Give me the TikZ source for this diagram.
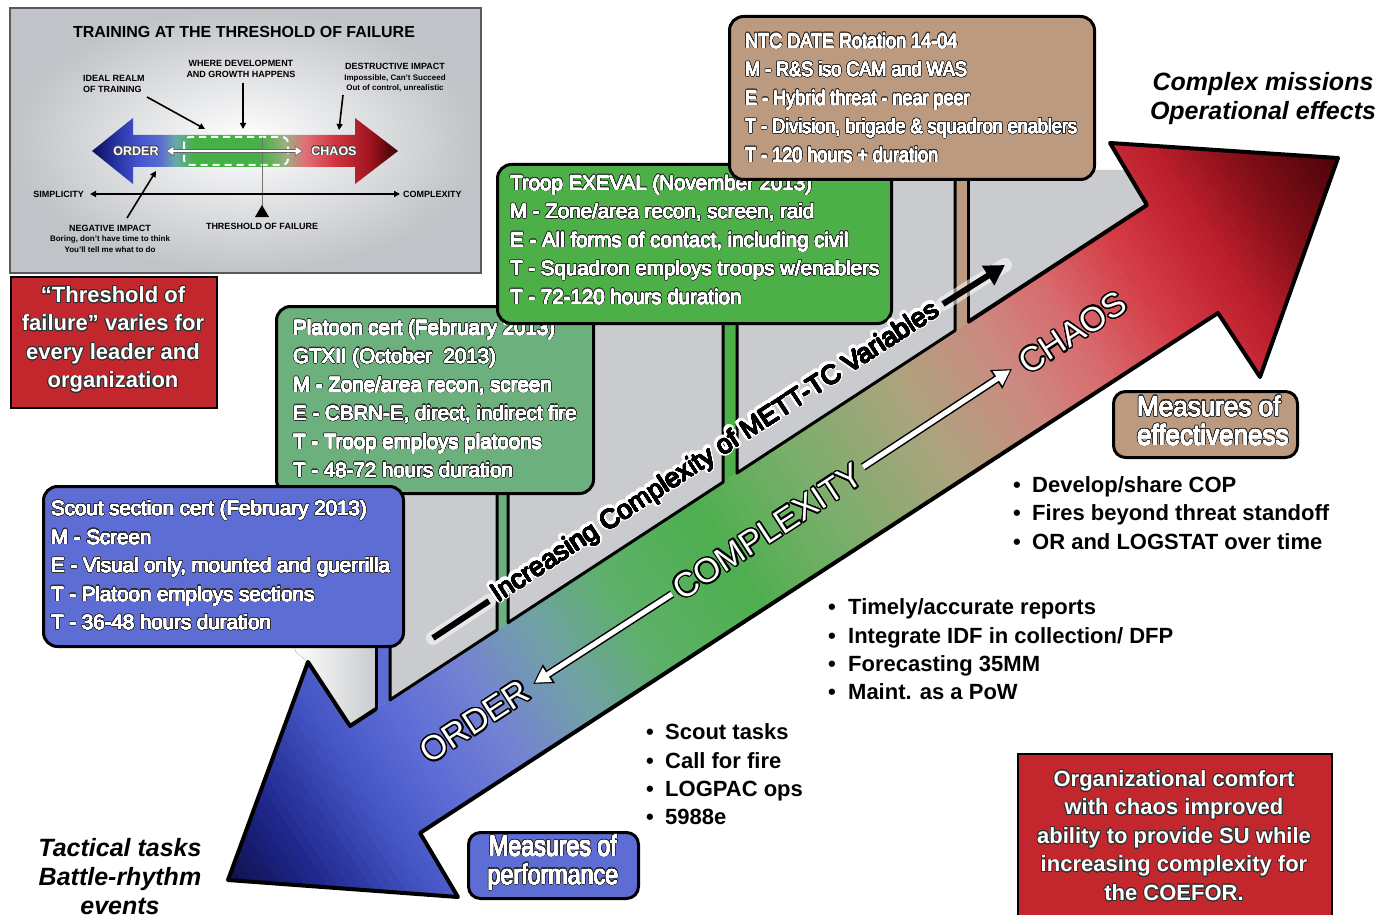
\documentclass[tikz,border=0pt]{standalone}
\usepackage{fontspec}
\setmainfont{Liberation Sans}
\newfontfamily\ntcfont[FakeStretch=0.88]{Liberation Sans}
\newfontfamily\moefont[FakeStretch=0.93]{Liberation Sans}
\newfontfamily\mopfont[FakeStretch=0.83]{Liberation Sans}
\usepackage[copies]{contour}
\contournumber{24}
\usetikzlibrary{arrows.meta}

% box and panel colours
\definecolor{scoutblue}{HTML}{5D6DD4}
\definecolor{platgreen}{HTML}{6BB07D}
\definecolor{troopgreen}{HTML}{4DAF48}
\definecolor{ntctan}{HTML}{BB9A80}
\definecolor{alertred}{HTML}{C1272D}
\definecolor{wallgrey}{HTML}{C9CBCE}
\definecolor{insetgrey}{HTML}{C0C3C7}
\definecolor{rimdark}{HTML}{303030}

% colour stops along the big diagonal arrow
\definecolor{ga}{HTML}{070A30}
\definecolor{gb}{HTML}{1E268A}
\definecolor{gc}{HTML}{4455C4}
\definecolor{gd}{HTML}{5D6CD6}
\definecolor{ge}{HTML}{7482D2}
\definecolor{gf}{HTML}{72A0AA}
\definecolor{gg}{HTML}{5EB06A}
\definecolor{gh}{HTML}{4DAF4F}
\definecolor{gi}{HTML}{7CAE6C}
\definecolor{gj}{HTML}{ACA47E}
\definecolor{gk}{HTML}{CC8A80}
\definecolor{gl}{HTML}{D86A6E}
\definecolor{gm}{HTML}{D43C46}
\definecolor{gn}{HTML}{BE1F2D}
\definecolor{go}{HTML}{7C0D15}
\definecolor{gp}{HTML}{3A0005}

% colour stops of the small order/chaos arrow
\definecolor{ia}{HTML}{0B0F55}
\definecolor{ib}{HTML}{2532A0}
\definecolor{ic}{HTML}{4656D2}
\definecolor{id}{HTML}{5A6CD0}
\definecolor{ie}{HTML}{6AA8A8}
\definecolor{if}{HTML}{45B045}
\definecolor{ig}{HTML}{9AB080}
\definecolor{ih}{HTML}{E07078}
\definecolor{ii}{HTML}{D2343E}
\definecolor{ij}{HTML}{A0141E}
\definecolor{ik}{HTML}{3A0004}

\pgfdeclarehorizontalshading{insetgrad}{100bp}{color(0bp)=(ia); color(25bp)=(ia); color(28.8bp)=(ib); color(32.8bp)=(ic); color(36.1bp)=(id); color(38.6bp)=(ie); color(41.8bp)=(if); color(52.5bp)=(if); color(56.5bp)=(ig); color(59.8bp)=(ih); color(64.7bp)=(ii); color(70.4bp)=(ij); color(75bp)=(ik); color(100bp)=(ik)}

% outlined lettering: a dark halo layer first, then a slightly emboldened white layer
\def\outlcolor{rimdark}
\newcommand\outl[1]{\contour{\outlcolor}{#1}}
\newcommand\glowtxt[1]{\contour{white}{#1}}

\newcommand\scoutlines{\outl{Scout section cert (February 2013)}\\\outl{M - Screen}\\\outl{E - Visual only, mounted and guerrilla}\\\outl{T - Platoon employs sections}\\\outl{T - 36-48 hours duration}}
\newcommand\platoonlines{\outl{Platoon cert (February 2013)}\\\outl{GTXII (October\ \ 2013)}\\\outl{M - Zone/area recon, screen}\\\outl{E - CBRN-E, direct, indirect fire}\\\outl{T - Troop employs platoons}\\\outl{T - 48-72 hours duration}}
\newcommand\trooplines{\outl{Troop EXEVAL (November 2013)}\\\outl{M - Zone/area recon, screen, raid}\\\outl{E - All forms of contact, including civil}\\\outl{T - Squadron employs troops w/enablers}\\\outl{T - 72-120 hours duration}}
\newcommand\ntclines{\outl{NTC DATE Rotation 14-04}\\\outl{M - R\&S iso CAM and WAS}\\\outl{E - Hybrid threat - near peer}\\\outl{T - Division, brigade \& squadron enablers}\\\outl{T - 120 hours + duration}}
\newcommand\moelines{\outl{Measures of}\\\outl{effectiveness}}
\newcommand\moplines{\outl{Measures of}\\\outl{performance}}

\begin{document}
\begin{tikzpicture}[x=1pt, y=-1pt,
  box/.style={draw=black, line width=3pt, rounded corners=14pt, inner sep=0pt, anchor=north west},
  boxshade/.style={inner sep=0pt, anchor=west, align=left, text=rimdark, font=\fontsize{20.5}{28.5}\selectfont\contourlength{1.1pt}\def\outlcolor{rimdark}},
  boxtext/.style={inner sep=0pt, anchor=west, align=left, text=white, font=\fontsize{20.5}{28.5}\selectfont\contourlength{0.22pt}\def\outlcolor{white}},
  alertbox/.style={draw=black, line width=2pt, fill=alertred, inner sep=0pt, anchor=north west},
  alerttext/.style={inner sep=0pt, align=center, text=white, font=\fontsize{22}{28.5}\selectfont\bfseries\contourlength{0.8pt}},
  bullets/.style={inner sep=0pt, anchor=west, align=left, font=\fontsize{22}{28.3}\selectfont\bfseries},
  aside/.style={inner sep=0pt, align=center, font=\fontsize{25}{29}\selectfont\bfseries\itshape},
  rim/.style={line width=3pt, line cap=round, line join=round},
  axislabel/.style={inner sep=0pt, text=white, font=\fontsize{34}{34}\selectfont\contourlength{1.4pt}},
  insetlbl/.style={inner sep=0pt, align=center, font=\fontsize{9}{10.5}\selectfont\bfseries},
  pointer/.style={line width=1.6pt, -{Triangle[length=6pt,width=6pt]}},
]
\useasboundingbox (0,0) rectangle (1390,915);
\fill[white] (0,0) rectangle (1390,915);

% ---------------- inset: training at the threshold of failure ----------------
\shade[inner color=white, outer color=insetgrey] (10,8) rectangle (481,273);
\draw[black!65, line width=1.2pt] (10,8) rectangle (481,273);
\node[insetlbl, font=\fontsize{16}{16}\selectfont\bfseries] (insetTitle) at (244,32) {TRAINING AT THE THRESHOLD OF FAILURE};

\shade[shading=insetgrad] (92,151) -- (133,118) -- (133,135) -- (355,135) -- (355,118) -- (398,151)
  -- (355,184) -- (355,167) -- (133,167) -- (133,184) -- cycle;
\draw[white, line width=2pt, dash pattern=on 7pt off 5pt, rounded corners=6pt] (184,137) rectangle (288,165);
\draw[black!55, line width=0.8pt] (262,137) -- (262,207);
\fill (262,205) -- (255,217) -- (269,217) -- cycle;

\coordinate (ibL) at (166,151);
\coordinate (ibR) at (303,151);
\draw[black!60, line width=4pt, {Triangle[length=8pt,width=10pt]}-{Triangle[length=8pt,width=10pt]}] (ibL) -- (ibR);
\draw[white, line width=2.2pt, shorten <=1.3pt, shorten >=1.3pt, {Triangle[length=6pt,width=7.5pt]}-{Triangle[length=6pt,width=7.5pt]}] (ibL) -- (ibR);

\node[inner sep=0pt, text=white, font=\fontsize{12.5}{12.5}\selectfont\bfseries\contourlength{0.5pt}] (insetOrder) at (136,151) {\contour{black!70}{ORDER}};
\node[inner sep=0pt, text=white, font=\fontsize{12.5}{12.5}\selectfont\bfseries\contourlength{0.5pt}] (insetChaos) at (334,151) {\contour{black!70}{CHAOS}};

\coordinate (axL) at (90,194);
\coordinate (axR) at (400,194);
\draw[line width=1.5pt, {Triangle[length=6pt,width=6pt]}-{Triangle[length=6pt,width=6pt]}] (axL) -- (axR);
\node[insetlbl, anchor=east] (simpLbl) at (84,194) {SIMPLICITY};
\node[insetlbl, anchor=west] (compLbl) at (403,194) {COMPLEXITY};

\node[insetlbl, anchor=west, align=left] (idealLbl) at (83,84) {IDEAL REALM\\OF TRAINING};
\node[insetlbl] (growthLbl) at (241,69) {WHERE DEVELOPMENT\\AND GROWTH HAPPENS};
\node[insetlbl] (destLbl) at (395,77.5) {DESTRUCTIVE IMPACT\\{\fontsize{8}{10}\selectfont Impossible, Can't Succeed}\\{\fontsize{8}{10}\selectfont Out of control, unrealistic}};
\node[insetlbl] (negLbl) at (110,238.5) {NEGATIVE IMPACT\\{\fontsize{8}{10}\selectfont Boring, don't have time to think}\\{\fontsize{8}{10}\selectfont You'll tell me what to do}};
\node[insetlbl] (threshLbl) at (262,226) {THRESHOLD OF FAILURE};

\draw[pointer] (147,97) -- (205,129);
\draw[pointer] (243,83) -- (243,129);
\draw[pointer] (343,95) -- (339,130);
\draw[pointer] (127,218) -- (156,171);

% ---------------- red note, top left ----------------
\node[alertbox, minimum width=206pt, minimum height=131pt] (noteBox) at (10,276) {};
\node[alerttext] (noteText) at (113,340) {\outl{“Threshold of}\\\outl{failure” varies for}\\\outl{every leader and}\\\outl{organization}};

% ---------------- big diagonal arrow ----------------
\coordinate (lnu) at (350,726);
\coordinate (lbu) at (308,662);
\coordinate (ltip) at (228,880);
\coordinate (lbl) at (458,897);
\coordinate (lnl) at (420,833);
\coordinate (unl) at (1218,313);
\coordinate (ubl) at (1260,377);
\coordinate (utip) at (1338,158);
\coordinate (ubu) at (1110,143);
\coordinate (unu) at (1147,205);

\coordinate (e1) at (376,709.0);
\coordinate (e2) at (390,699.9);
\coordinate (e3) at (497,629.9);
\coordinate (e4) at (508,622.7);
\coordinate (e5) at (723,482.2);
\coordinate (e6) at (737,473.0);
\coordinate (e7) at (955,330.5);
\coordinate (e8) at (968,322.0);

\begin{scope}
  \clip (lnu) -- (lbu) -- (ltip) -- (lbl) -- (lnl) -- (unl) -- (ubl) -- (utip) -- (ubu) -- (unu) -- cycle;
  \foreach \ta/\tb/\ca/\cb in {-320/-220/ga/gb, -220/-130/gb/gc, -130/-60/gc/gd, -60/20/gd/ge,
      20/100/ge/gf, 100/190/gf/gg, 190/300/gg/gh, 300/420/gh/gi, 420/540/gi/gj, 540/640/gj/gk,
      640/720/gk/gl, 720/800/gl/gm, 800/880/gm/gn, 880/960/gn/go, 960/1060/go/gp} {
    \foreach \k in {0,...,9} {
      \pgfmathsetmacro\tl{\ta+(\tb-\ta)*\k/10}
      \pgfmathsetmacro\tr{\ta+(\tb-\ta)*(\k+1)/10+0.8}
      \pgfmathtruncatemacro\p{\k*10+5}
      \fill[fill={\cb!\p!\ca}]
        ({\tl*0.8369+230*0.5473},{-\tl*0.5473+230*0.8369}) --
        ({\tl*0.8369+1500*0.5473},{-\tl*0.5473+1500*0.8369}) --
        ({\tr*0.8369+1500*0.5473},{-\tr*0.5473+1500*0.8369}) --
        ({\tr*0.8369+230*0.5473},{-\tr*0.5473+230*0.8369}) -- cycle;
    }
  }
\end{scope}

% grey walls between the callout stems
\fill[left color=white, right color=wallgrey] (292,640) -- (376,640) -- (e1) -- (lnu) -- (lbu) -- (296,652) -- cycle;
\fill[wallgrey] (390,480) -- (497,480) -- (e3) -- (e2) -- cycle;
\fill[wallgrey] (508,315) -- (723,315) -- (e5) -- (e4) -- cycle;
\fill[wallgrey] (737,170) -- (955,170) -- (e7) -- (e6) -- cycle;
\fill[wallgrey] (968,170) -- (1126,170) -- (unu) -- (e8) -- cycle;

% callout stems
\fill[scoutblue] (376,640) -- (390,640) -- (e2) -- (e1) -- cycle;
\fill[platgreen] (497,487) -- (508,487) -- (e4) -- (e3) -- cycle;
\fill[troopgreen] (723,317) -- (737,317) -- (e6) -- (e5) -- cycle;
\fill[ntctan] (955,173) -- (968,173) -- (e8) -- (e7) -- cycle;

\draw[rim] (376,645) -- (e1);
\draw[rim] (390,645) -- (e2) -- (e3) -- (497,492);
\draw[rim] (508,492) -- (e4) -- (e5) -- (723,322);
\draw[rim] (737,322) -- (e6) -- (e7) -- (955,178);
\draw[rim] (968,178) -- (e8);

% ---------------- callout boxes ----------------
\node[box, fill=platgreen, minimum width=317pt, minimum height=187pt] (platoon) at (275,305) {};
\node[boxshade] (platoonShade) at (293,399) {\platoonlines};
\node[boxtext] (platoonText) at (293,399) {\platoonlines};

\node[box, fill=scoutblue, minimum width=360pt, minimum height=160pt] (scout) at (42,485) {};
\node[boxshade] (scoutShade) at (51,565.5) {\scoutlines};
\node[boxtext] (scoutText) at (51,565.5) {\scoutlines};

\node[box, fill=troopgreen, minimum width=394pt, minimum height=159pt] (troop) at (496,163) {};
\node[boxshade] (troopShade) at (510,240) {\trooplines};
\node[boxtext] (troopText) at (510,240) {\trooplines};

\node[box, fill=ntctan, minimum width=365pt, minimum height=163pt] (ntc) at (728,15) {};
\node[boxshade, font=\ntcfont\fontsize{20.5}{28.5}\selectfont\contourlength{1.1pt}\def\outlcolor{rimdark}] (ntcShade) at (745,98) {\ntclines};
\node[boxtext, font=\ntcfont\fontsize{20.5}{28.5}\selectfont\contourlength{0.22pt}\def\outlcolor{white}] (ntcText) at (745,98) {\ntclines};

% outline of the big arrow (upper edge comes from the walls)
\draw[line width=4pt, line join=round] (e1) -- (lnu) -- (lbu) -- (ltip) -- (lbl) -- (lnl) -- (unl) -- (ubl) -- (utip) -- (ubu) -- (unu) -- (e8);

% ---------------- METT-TC arrow ----------------
\coordinate (mA) at (433,638);
\coordinate (mB) at (489,601);
\coordinate (mC) at (943,304);
\coordinate (mD) at (1005,265);
\draw[white, opacity=0.55, line width=14pt, line cap=round] (mA) -- (mB);
\draw[white, opacity=0.55, line width=14pt, line cap=round] (mC) -- (mD);
\draw[line width=6pt] (mA) -- (mB);
\draw[line width=6pt, -{Triangle[length=20pt,width=22pt]}] (mC) -- (mD);
\node[inner sep=0pt, rotate=33.1, text=white, font=\fontsize{26.5}{30}\selectfont\contourlength{3pt}] (mettGlow) at (716,453) {\glowtxt{Increasing Complexity of METT-TC Variables}};
\node[inner sep=0pt, rotate=33.1, font=\fontsize{26.5}{30}\selectfont\contourlength{0.45pt}] (mettText) at (716,453) {\contour{black}{Increasing Complexity of METT-TC Variables}};

% ---------------- order / complexity / chaos ----------------
\coordinate (wA) at (672,594);
\coordinate (wB) at (533,684);
\coordinate (wC) at (863,467);
\coordinate (wD) at (1012,369);
\draw[black, line width=8pt, -{Triangle[length=19pt,width=21pt]}] (wA) -- (wB);
\draw[white, line width=5pt, shorten >=2.2pt, -{Triangle[length=15pt,width=16pt]}] (wA) -- (wB);
\draw[black, line width=8pt, -{Triangle[length=19pt,width=21pt]}] (wC) -- (wD);
\draw[white, line width=5pt, shorten >=2.2pt, -{Triangle[length=15pt,width=16pt]}] (wC) -- (wD);
\node[axislabel, rotate=33.1] (orderLbl) at (475,722) {\contour{black}{ORDER}};
\node[axislabel, rotate=33.1] (complexLbl) at (768,532) {\contour{black}{COMPLEXITY}};
\node[axislabel, rotate=33.1] (chaosLbl) at (1073,333) {\contour{black}{CHAOS}};

% ---------------- measures ----------------
\node[box, rounded corners=12pt, fill=ntctan, minimum width=184pt, minimum height=66pt] (moeBox) at (1112,390) {};
\node[boxshade, font=\moefont\fontsize{28}{28.5}\selectfont\contourlength{1.3pt}\def\outlcolor{rimdark}] (moeShade) at (1137,421) {\moelines};
\node[boxtext, font=\moefont\fontsize{28}{28.5}\selectfont\contourlength{0.3pt}\def\outlcolor{white}] (moeText) at (1137,421) {\moelines};
\node[box, rounded corners=12pt, fill=scoutblue, minimum width=170pt, minimum height=66pt] (mopBox) at (467,831) {};
\node[boxshade, align=center, anchor=center, font=\mopfont\fontsize{28}{28.5}\selectfont\contourlength{1.3pt}\def\outlcolor{rimdark}] (mopShade) at (553,863) {\moplines};
\node[boxtext, align=center, anchor=center, font=\mopfont\fontsize{28}{28.5}\selectfont\contourlength{0.3pt}\def\outlcolor{white}] (mopText) at (553,863) {\moplines};

\node[bullets] (listMoe) at (1013,513) {\makebox[19pt][l]{\textbullet}Develop/share COP\\\makebox[19pt][l]{\textbullet}Fires beyond threat standoff\\\makebox[19pt][l]{\textbullet}OR and LOGSTAT over time};
\node[bullets] (listMid) at (828,649.5) {\makebox[20pt][l]{\textbullet}Timely/accurate reports\\\makebox[20pt][l]{\textbullet}Integrate IDF in collection/ DFP\\\makebox[20pt][l]{\textbullet}Forecasting 35MM\\\makebox[20pt][l]{\textbullet}Maint. as a PoW};
\node[bullets] (listMop) at (646,774.5) {\makebox[19pt][l]{\textbullet}Scout tasks\\\makebox[19pt][l]{\textbullet}Call for fire\\\makebox[19pt][l]{\textbullet}LOGPAC ops\\\makebox[19pt][l]{\textbullet}5988e};

\node[aside] (topAside) at (1263,98.5) {Complex missions\\Operational effects};
\node[aside] (bottomAside) at (120,876.5) {Tactical tasks\\Battle-rhythm\\events};

% ---------------- red note, bottom right ----------------
\node[alertbox, minimum width=314pt, minimum height=170pt] (comfortBox) at (1017,753) {};
\node[alerttext] (comfortText) at (1174,836) {\outl{Organizational comfort}\\\outl{with chaos improved}\\\outl{ability to provide SU while}\\\outl{increasing complexity for}\\\outl{the COEFOR.}};
\end{tikzpicture}
\end{document}
